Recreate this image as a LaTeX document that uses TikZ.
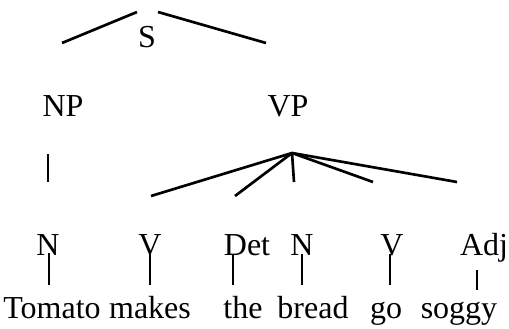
\documentclass[tikz,border=0pt]{standalone}
\usepackage{fontspec}
\setmainfont{Liberation Serif}
\usetikzlibrary{positioning}

\tikzset{
  lbl/.style={anchor=base, inner sep=0pt, font=\fontsize{24}{28}\selectfont},
  branch/.style={line width=2pt}
}

\begin{document}
\begin{tikzpicture}[x=0.75pt, y=-0.75pt]
        \useasboundingbox (0,0) rectangle (509,328);

        % Phrase labels
        \node[lbl] (s)  at (147,47)  {S};
        \node[lbl] (np) at (63,116)  {NP};
        \node[lbl] (vp) at (288,116) {VP};

        % Word classes
        \node[lbl] (n1)  at (48,255)  {N};
        \node[lbl] (v1)  at (150,255) {V};
        \node[lbl] (det) at (247,255) {Det};
        \node[lbl] (n2)  at (302,255) {N};
        \node[lbl] (v2)  at (392,255) {V};
        \node[lbl] (adj) at (484,255) {Adj};

        % Words
        \node[lbl] (tomato) at (52,318)  {Tomato};
        \node[lbl] (makes)  at (150,318) {makes};
        \node[lbl] (the)    at (243,318) {the};
        \node[lbl] (bread)  at (313,318) {bread};
        \node[lbl] (go)     at (386,318) {go};
        \node[lbl] (soggy)  at (459,318) {soggy};

        % Branch ends
        \coordinate (s-a) at (62,43);   \coordinate (s-b) at (137,12);
        \coordinate (s-c) at (158,12);  \coordinate (s-d) at (266,43);
        \coordinate (np-a) at (48,154); \coordinate (np-b) at (48,182);
        \coordinate (vp-top) at (292,153);
        \coordinate (vp-1) at (151,196);
        \coordinate (vp-2) at (235,196);
        \coordinate (vp-3) at (294,182);
        \coordinate (vp-4) at (373,182);
        \coordinate (vp-5) at (457,182);

        % S branches
        \draw[branch] (s-a) -- (s-b);
        \draw[branch] (s-c) -- (s-d);

        % NP branch
        \draw[branch] (np-a) -- (np-b);

        % VP branches
        \foreach \k in {1,...,5}
          \draw[branch] (vp-top) -- (vp-\k);

        % Word branches
        \coordinate (n1-a) at (49,253);   \coordinate (n1-b) at (49,285);
        \coordinate (v1-a) at (150,250);  \coordinate (v1-b) at (150,285);
        \coordinate (det-a) at (233,254); \coordinate (det-b) at (233,285);
        \coordinate (n2-a) at (302,254);  \coordinate (n2-b) at (302,285);
        \coordinate (v2-a) at (390,254);  \coordinate (v2-b) at (390,285);
        \coordinate (adj-a) at (477,270); \coordinate (adj-b) at (477,290);
        \foreach \w in {n1,v1,det,n2,v2,adj}
          \draw[branch] (\w-a) -- (\w-b);

\end{tikzpicture}
\end{document}
